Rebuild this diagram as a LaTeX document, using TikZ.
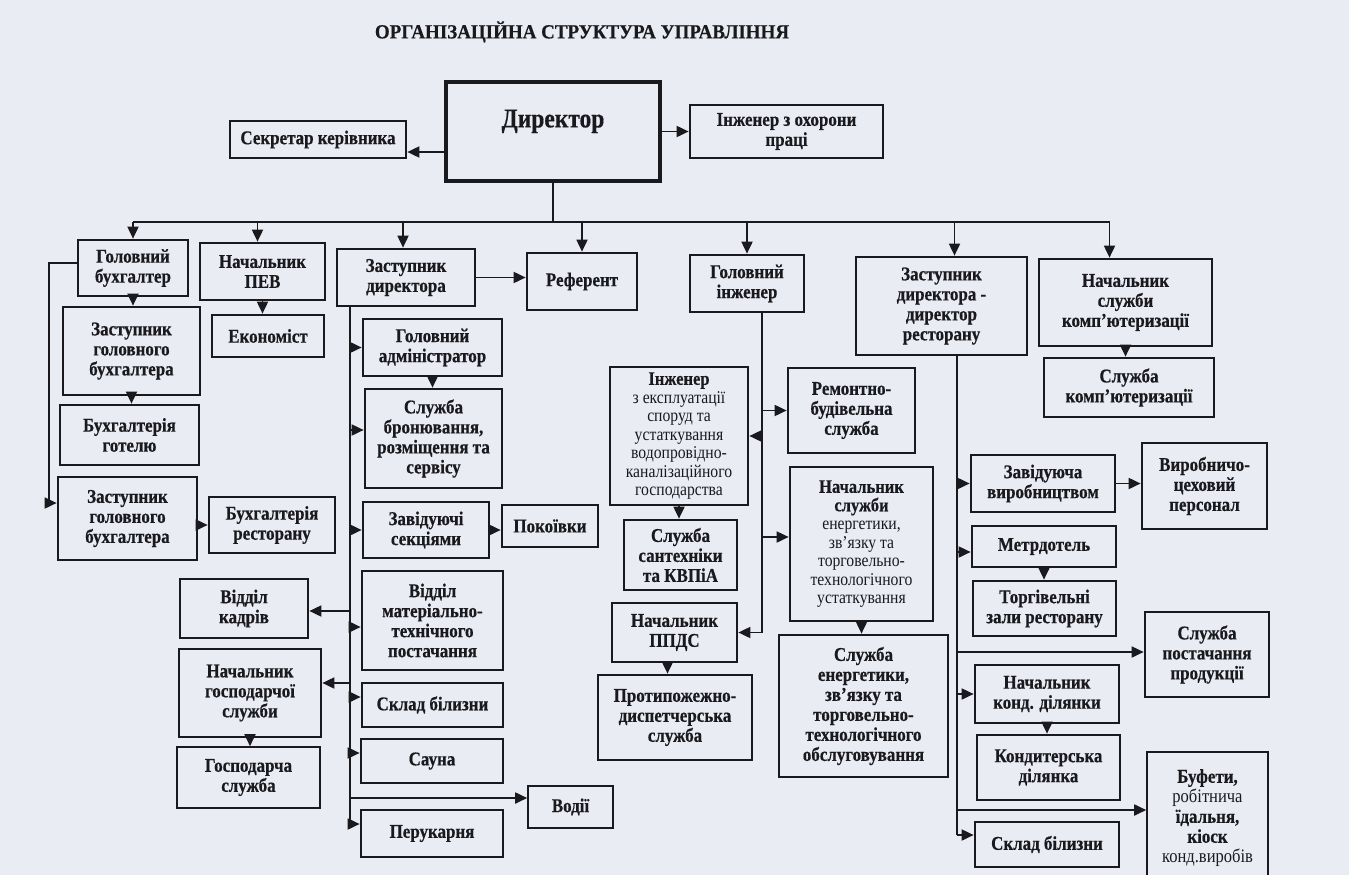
\documentclass[tikz,border=0pt]{standalone}
\usepackage{fontspec}
\setmainfont{Liberation Serif}
\newfontfamily\boxfont{Liberation Serif}[FakeStretch=0.87, BoldFeatures={FakeBold=0.5}]
\newfontfamily\titlefont{Liberation Serif}[FakeStretch=0.95, BoldFeatures={FakeBold=0.4}]
\usetikzlibrary{arrows.meta}
\definecolor{bgc}{RGB}{233,236,242}
\definecolor{ink}{RGB}{26,26,30}
\tikzset{
  box/.style={draw=ink, line width=2.7pt, inner sep=1pt, align=center, text=ink,
    font=\boxfont\fontsize{19.5}{20}\selectfont\bfseries},
  thinbox/.style={line width=1.6pt},
  dirbox/.style={line width=3.8pt, font=\boxfont\fontsize{27}{28}\selectfont\bfseries, text depth=26pt},
  smalltxt/.style={font=\boxfont\fontsize{19}{18.5}\selectfont\bfseries},
  conn/.style={draw=ink, line width=1.8pt},
  arr/.style={conn, -{Triangle[length=12pt,width=11pt]}},
}
\newcommand\md[2][18]{{\mdseries\fontsize{#1}{18.5}\selectfont #2}}
\newcommand\bx[7][]{%
  \pgfmathsetmacro\bxcx{(#3+#5)/2}\pgfmathsetmacro\bxcy{(#4+#6)/2}%
  \pgfmathsetmacro\bxww{#5-#3}\pgfmathsetmacro\bxhh{#6-#4}%
  \node[box,minimum width=\bxww pt,minimum height=\bxhh pt,#1] (#2) at (\bxcx,\bxcy) {#7};}
\newcommand\tarr[3]{\path ([#3]#2) coordinate (tgt); \draw[arr] (#1 |- tgt) -- (tgt);}
\newcommand\barr[2]{\path ([#2]#1) coordinate (tgt); \draw[arr] (tgt |- bus) -- (tgt);}
\begin{document}
\begin{tikzpicture}[x=1pt,y=-1pt]
\useasboundingbox (0,0) rectangle (1349,875);
\fill[bgc] (0,0) rectangle (1349,875);

\node[text=ink, font=\titlefont\fontsize{20}{22}\selectfont\bfseries] (title) at (582,32) {ОРГАНІЗАЦІЙНА СТРУКТУРА УПРАВЛІННЯ};

% top level
\bx[dirbox]{dir}{446}{82}{660}{181}{Директор}
\bx{sec}{230}{121}{406}{158}{Секретар керівника}
\bx{ohr}{690}{105}{883}{158}{Інженер з охорони\\праці}

% second level
\bx{gb}{78}{240}{188}{296}{Головний\\бухгалтер}
\bx{pev}{200}{243}{325}{300}{Начальник\\ПЕВ}
\bx{zd}{337}{249}{475}{306}{Заступник\\директора}
\bx{ref}{527}{253}{637}{310}{Референт}
\bx{gi}{690}{255}{804}{312}{Головний\\інженер}
\bx{zddr}{856}{257}{1027}{355}{Заступник\\директора -\\директор\\ресторану}
\bx{nsk}{1039}{259}{1212}{346}{Начальник\\служби\\комп’ютеризації}

% accounting / economics
\bx{zgb1}{63}{307}{200}{395}{Заступник\\головного\\бухгалтера}
\bx{ekon}{212}{315}{324}{357}{Економіст}
\bx{bg}{60}{405}{199}{465}{Бухгалтерія\\готелю}
\bx{zgb2}{58}{477}{197}{560}{Заступник\\головного\\бухгалтера}
\bx{br}{209}{497}{335}{553}{Бухгалтерія\\ресторану}

% deputy director branch
\bx{ga}{363}{319}{502}{376}{Головний\\адміністратор}
\bx{sbr}{365}{389}{502}{488}{Служба\\бронювання,\\розміщення та\\сервісу}
\bx{zs}{363}{502}{489}{558}{Завідуючі\\секціями}
\bx{pok}{502}{505}{598}{547}{Покоївки}
\bx{vmtp}{362}{571}{503}{670}{Відділ\\матеріально-\\технічного\\постачання}
\bx{vk}{180}{579}{308}{638}{Відділ\\кадрів}
\bx{ngs}{179}{649}{321}{737}{Начальник\\господарчої\\служби}
\bx[thinbox]{gs}{177}{747}{320}{808}{Господарча\\служба}
\bx{skl}{362}{683}{503}{727}{Склад білизни}
\bx{sauna}{361}{739}{503}{783}{Сауна}
\bx[thinbox]{vodii}{528}{786}{613}{828}{Водії}
\bx{peruk}{361}{810}{503}{857}{Перукарня}

% chief engineer branch
\bx[smalltxt]{ing}{610}{367}{748}{505}{Інженер\\\md{з експлуатації}\\\md{споруд та}\\\md{устаткування}\\\md{водопровідно-}\\\md{каналізаційного}\\\md{господарства}}
\bx{rem}{788}{368}{915}{453}{Ремонтно-\\будівельна\\служба}
\bx{san}{624}{520}{737}{590}{Служба\\сантехніки\\та КВПіА}
\bx[smalltxt]{nse}{790}{467}{933}{621}{Начальник\\служби\\\md{енергетики,}\\\md{зв’язку та}\\\md{торговельно-}\\\md{технологічного}\\\md{устаткування}}
\bx{ppds}{612}{603}{737}{662}{Начальник\\ППДС}
\bx{ppd}{598}{675}{752}{760}{Протипожежно-\\диспетчерська\\служба}
\bx{se}{779}{635}{948}{777}{Служба\\енергетики,\\зв’язку та\\торговельно-\\технологічного\\обслуговування}

% computerisation and restaurant
\bx{sk}{1044}{358}{1214}{417}{Служба\\комп’ютеризації}
\bx{zv}{971}{455}{1115}{512}{Завідуюча\\виробництвом}
\bx{vcp}{1142}{443}{1267}{529}{Виробничо-\\цеховий\\персонал}
\bx{metr}{972}{526}{1116}{567}{Метрдотель}
\bx{tz}{973}{581}{1116}{636}{Торгівельні\\зали ресторану}
\bx{sp}{1145}{612}{1269}{697}{Служба\\постачання\\продукції}
\bx{nkd}{975}{665}{1119}{723}{Начальник\\конд. ділянки}
\bx{kd}{977}{735}{1120}{800}{Кондитерська\\ділянка}
\bx[thinbox]{buf}{1147}{752}{1268}{884}{Буфети,\\\md[19]{робітнича}\\їдальня,\\кіоск\\\md[19]{конд.виробів}}
\bx{skl2}{975}{822}{1119}{867}{Склад білизни}

% director connections
\path ([yshift=-20.5pt]dir.west) coordinate (dsec);
\draw[arr] (dsec) -- (dsec -| sec.east);
\draw[arr] (dir.east |- ohr.west) -- (ohr.west);
\coordinate (bus) at (556,222);
\draw[conn] (dir.south) -- (dir.south |- bus);
\path ([xshift=-16pt]nsk.north) coordinate (busR);
\draw[conn] (gb.north |- bus) -- (busR |- bus);
\barr{gb.north}{xshift=0pt}
\barr{pev.north}{xshift=-5pt}
\barr{zd.north}{xshift=-3pt}
\barr{ref.north}{xshift=0pt}
\barr{gi.north}{xshift=0pt}
\barr{zddr.north}{xshift=13pt}
\barr{nsk.north}{xshift=-16pt}

% vertical chains
\draw[arr] (gb.south) -- (gb.south |- zgb1.north);
\draw[arr] (zgb1.south) -- (zgb1.south |- bg.north);
\draw[arr] (pev.south) -- (pev.south |- ekon.north);
\draw[arr] (ga.south) -- (ga.south |- sbr.north);
\draw[arr] (ngs.south) -- (ngs.south |- gs.north);
\draw[arr] (ing.south) -- (ing.south |- san.north);
\draw[arr] ([xshift=-7pt]ppds.south) -- ([xshift=-7pt]ppds.south |- ppd.north);
\draw[arr] (nse.south) -- (nse.south |- se.north);
\draw[arr] (nsk.south) -- (nsk.south |- sk.north);
\draw[arr] (metr.south) -- (metr.south |- tz.north);
\draw[arr] (nkd.south) -- (nkd.south |- kd.north);

% horizontal links
\draw[arr] (zd.east) -- (zd.east -| ref.west);
\draw[arr] (zs.east) -- (zs.east -| pok.west);
\draw[arr] (zgb2.east |- br.west) -- (br.west);
\draw[arr] (zv.east) -- (zv.east -| vcp.west);
\draw[arr] ([yshift=5pt]gb.west) -- ++(-28,0) |- ([yshift=15.5pt]zgb2.west);

% deputy director trunk
\coordinate (zt) at (350,306);
\tarr{zt}{ga.west}{yshift=0pt}
\tarr{zt}{sbr.west}{yshift=8.5pt}
\tarr{zt}{zs.west}{yshift=0pt}
\tarr{zt}{vmtp.west}{yshift=-6.5pt}
\tarr{zt}{vk.east}{yshift=-2.5pt}
\tarr{zt}{ngs.east}{yshift=10pt}
\tarr{zt}{skl.west}{yshift=8pt}
\tarr{zt}{sauna.west}{yshift=8pt}
\tarr{zt}{vodii.west}{yshift=9pt}
\tarr{zt}{peruk.west}{yshift=9.5pt}
\draw[conn] (zt) -- (zt |- tgt);

% chief engineer trunk
\coordinate (gt) at (762,312);
\tarr{gt}{rem.west}{yshift=0pt}
\tarr{gt}{ing.east}{yshift=0pt}
\tarr{gt}{nse.west}{yshift=7pt}
\tarr{gt}{ppds.east}{yshift=0pt}
\draw[conn] (gt) -- (gt |- tgt);

% restaurant trunk
\coordinate (rt) at (957,355);
\tarr{rt}{zv.west}{yshift=0pt}
\tarr{rt}{metr.west}{yshift=-5.5pt}
\tarr{rt}{sp.west}{yshift=2.5pt}
\tarr{rt}{nkd.west}{yshift=0pt}
\tarr{rt}{buf.west}{yshift=8pt}
\tarr{rt}{skl2.west}{yshift=9.5pt}
\draw[conn] (rt) -- (rt |- tgt);
\end{tikzpicture}
\end{document}
